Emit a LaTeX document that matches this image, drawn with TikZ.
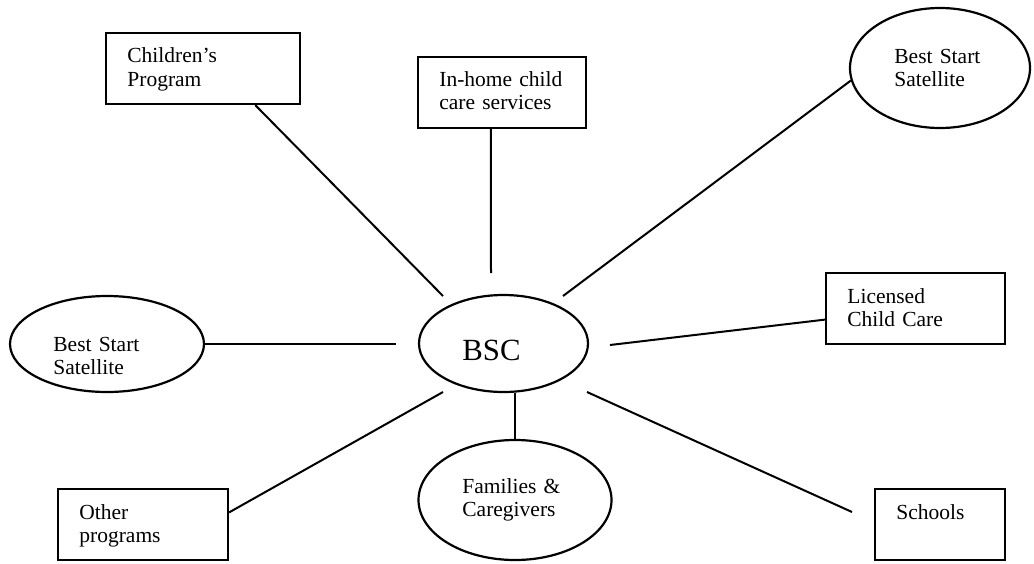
\documentclass[tikz,border=0pt]{standalone}
\usepackage{fontspec}
\setmainfont{Liberation Serif}
\usetikzlibrary{shapes.geometric}

\begin{document}
\begin{tikzpicture}[x=0.5pt, y=-0.5pt,
        box/.style={draw, rectangle, line width=1.1pt, inner sep=0pt, minimum height=35.5pt},
        oval/.style={draw, ellipse, line width=1.1pt, inner sep=0pt},
        lbl/.style={anchor=base west, align=left, inner sep=0pt, text width=75pt,
            font=\fontsize{10.75}{11.8}\selectfont},
        link/.style={line width=1pt}]
        \useasboundingbox (0,0) rectangle (1034,563);

        % SHAPES
        \node[box, minimum width=97pt] (kids) at (203,68.5) {};
        \node[box, minimum width=84pt] (inhome) at (502,92.5) {};
        \node[oval, minimum width=90pt, minimum height=60pt] (sat1) at (940,68) {};
        \node[box, minimum width=89.5pt] (lic) at (915.5,308.5) {};
        \node[oval, minimum width=84.5pt, minimum height=48.5pt] (bsc) at (503.5,343.5) {};
        \node[oval, minimum width=97pt, minimum height=48pt] (sat2) at (107,344) {};
        \node[box, minimum width=85pt] (other) at (143,524.5) {};
        \node[oval, minimum width=96.5pt, minimum height=60pt] (fam) at (515,500) {};
        \node[box, minimum width=65pt] (schools) at (940,524.5) {};

        % TEXTS
        \node[lbl] (kids-t) at (127,62.7) {Children's\\Program};
        \node[lbl] (inhome-t) at (439,86) {In-home child\\care services};
        \node[lbl] (sat1-t) at (894,63) {Best Start\\Satellite};
        \node[lbl] (lic-t) at (847,303) {Licensed\\Child Care};
        \node[lbl, font=\fontsize{15.4}{17}\selectfont] (bsc-t) at (462,360) {BSC};
        \node[lbl] (sat2-t) at (53,351) {Best Start\\Satellite};
        \node[lbl] (other-t) at (79,519) {Other\\programs};
        \node[lbl] (fam-t) at (462,493) {Families \&\\Caregivers};
        \node[lbl] (schools-t) at (896,519) {Schools};

        % LINKS (free ends stop short of BSC)
        \coordinate (kids-e) at (443,296);
        \coordinate (inhome-e) at (491,273);
        \coordinate (sat1-e) at (563,296);
        \coordinate (lic-e) at (610,345);
        \coordinate (sat2-e) at (396,344);
        \coordinate (other-e) at (443,392);
        \coordinate (schools-s) at (587,392);
        \coordinate (schools-e) at (852,512);
        \foreach \a/\b in {kids.-35/kids-e, inhome.253/inhome-e, sat1.188/sat1-e,
                lic.187/lic-e, sat2.east/sat2-e, other.8/other-e, schools-s/schools-e} {
            \draw[link] (\a) -- (\b);
        }
        \draw[link] (fam.north) -- (fam.north |- bsc.south);
    \end{tikzpicture}
\end{document}
